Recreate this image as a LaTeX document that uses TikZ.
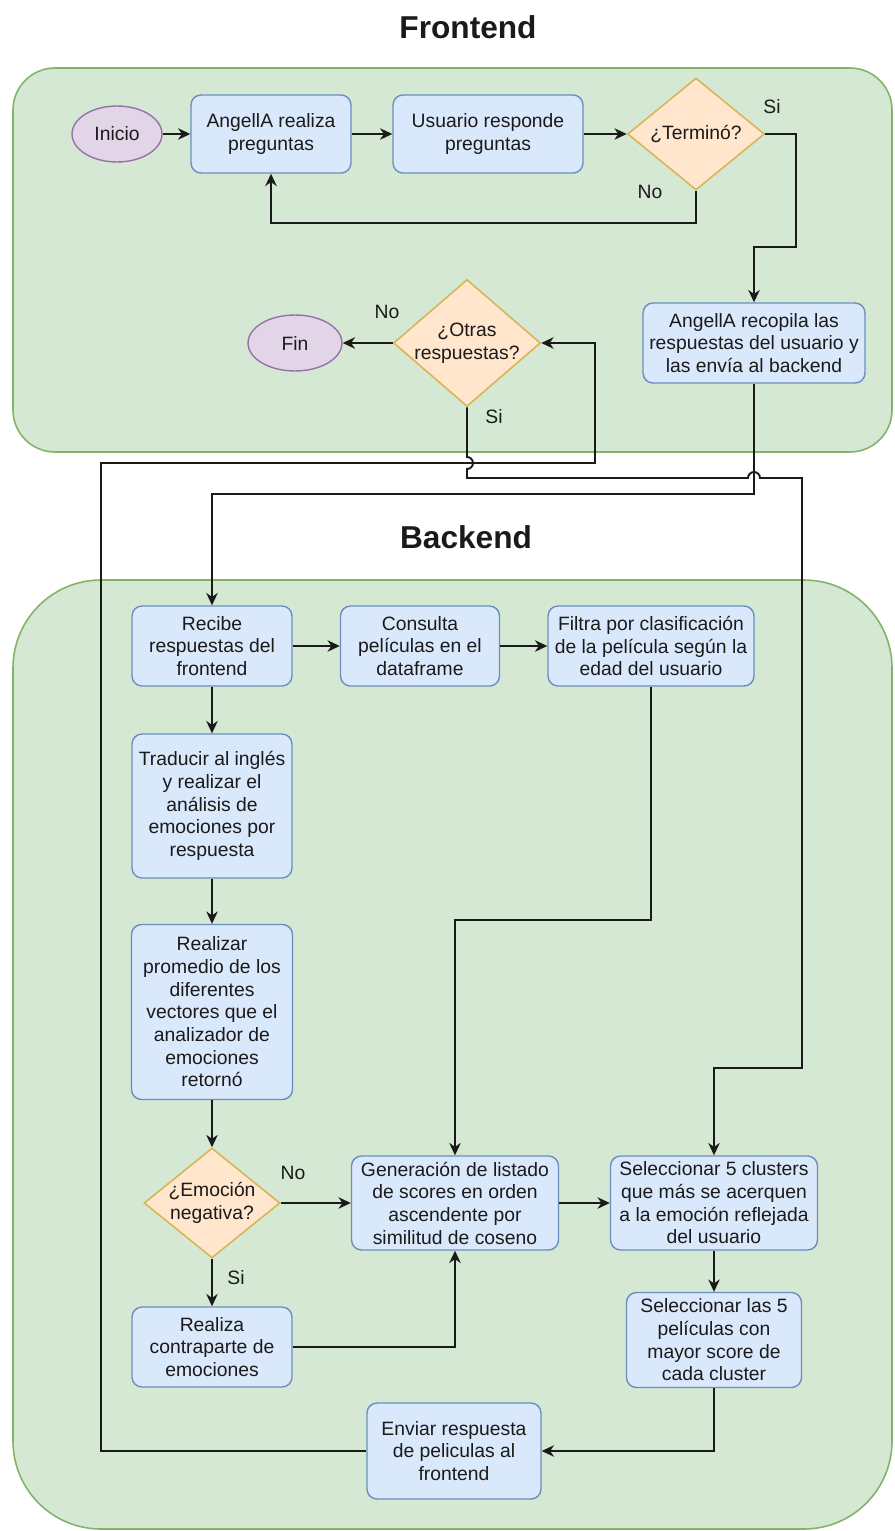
\documentclass[tikz,border=0pt]{standalone}
\usepackage{fontspec}
\setmainfont{Liberation Sans}
\usetikzlibrary{shapes.geometric,arrows.meta}
\definecolor{grfill}{HTML}{D5E8D4}
\definecolor{grline}{HTML}{82B366}
\definecolor{bxfill}{HTML}{DAE8FC}
\definecolor{bxline}{HTML}{6C8EBF}
\definecolor{dmfill}{HTML}{FFE6CC}
\definecolor{dmline}{HTML}{D6B656}
\definecolor{elfill}{HTML}{E1D5E7}
\definecolor{elline}{HTML}{9673A6}
\definecolor{txt}{HTML}{1A1A1A}
\definecolor{wire}{HTML}{1A1A1A}
\begin{document}
\begin{tikzpicture}[x=0.02cm,y=-0.02cm,
  container/.style={draw=grline,fill=grfill,line width=0.9pt},
  ttl/.style={font=\fontsize{18}{20}\selectfont\bfseries,text=txt},
  txtfont/.style={font=\fontsize{11}{12.9}\selectfont,text=txt,align=center},
  box/.style={txtfont,draw=bxline,fill=bxfill,rounded corners=0.2cm,line width=0.8pt,inner sep=1pt},
  dia/.style={diamond,draw=dmline,fill=dmfill,line width=0.9pt,inner sep=0pt},
  ell/.style={ellipse,txtfont,draw=elline,fill=elfill,line width=0.8pt,inner sep=1pt},
  lbl/.style={txtfont,inner sep=0pt},
  wireline/.style={draw=wire,line width=1.1pt},
  arr/.style={wireline,-{Stealth[length=7pt,width=6.5pt,inset=2.2pt]}}
]
\useasboundingbox (0,0) rectangle (894,1531);

% containers
\draw[container,rounded corners=0.84cm] (13,68) rectangle (892,452);
\draw[container,rounded corners=1.76cm] (13,580) rectangle (892,1529);

\node[ttl] (tfront) at (468,27) {Frontend};
\node[ttl] (tback) at (466,537) {Backend};

% ---- Frontend nodes
\node[ell,minimum width=1.8cm,minimum height=1.12cm] (inicio) at (117,134) {Inicio};
\node[box,minimum width=3.2cm,minimum height=1.56cm] (q1) at (271,134) {AngellA realiza\\preguntas};
\node[box,minimum width=3.8cm,minimum height=1.56cm] (q2) at (488,134) {Usuario responde\\preguntas};
\node[dia,minimum width=2.74cm,minimum height=2.24cm] (term) at (696,134) {};
\node[lbl] (termtxt) at (term) {¿Terminó?};
\node[box,minimum width=4.44cm,minimum height=1.6cm] (recopila) at (754,343) {AngellA recopila las\\respuestas del usuario y\\las envía al backend};
\node[dia,minimum width=2.94cm,minimum height=2.54cm] (otras) at (467,343) {};
\node[lbl] (otrastxt) at (otras) {¿Otras\\respuestas?};
\node[ell,minimum width=1.88cm,minimum height=1.12cm] (fin) at (295,343) {Fin};

% ---- Backend nodes
\node[box,minimum width=3.2cm,minimum height=1.6cm] (recibe) at (212,646) {Recibe\\respuestas del\\frontend};
\node[box,minimum width=3.18cm,minimum height=1.6cm] (consulta) at (420,646) {Consulta\\películas en el\\dataframe};
\node[box,minimum width=4.12cm,minimum height=1.6cm] (filtra) at (651,646) {Filtra por clasificación\\de la película según la\\edad del usuario};
\node[box,minimum width=3.2cm,minimum height=2.88cm] (traducir) at (212,806) {Traducir al inglés\\y realizar el\\análisis de\\emociones por\\respuesta};
\node[box,minimum width=3.22cm,minimum height=3.5cm] (promedio) at (212,1012) {Realizar\\promedio de los\\diferentes\\vectores que el\\analizador de\\emociones\\retornó};
\node[dia,minimum width=2.72cm,minimum height=2.2cm] (emocion) at (212,1203) {};
\node[lbl] (emociontxt) at (emocion) {¿Emoción\\negativa?};
\node[box,minimum width=3.2cm,minimum height=1.6cm] (contraparte) at (212,1347) {Realiza\\contraparte de\\emociones};
\node[box,minimum width=4.14cm,minimum height=1.88cm] (generacion) at (455,1203) {Generación de listado\\de scores en orden\\ascendente por\\similitud de coseno};
\node[box,minimum width=4.14cm,minimum height=1.88cm] (sel5) at (714,1203) {Seleccionar 5 clusters\\que más se acerquen\\a la emoción reflejada\\del usuario};
\node[box,minimum width=3.5cm,minimum height=1.9cm] (selpel) at (714,1340) {Seleccionar las 5\\películas con\\mayor score de\\cada cluster};
\node[box,minimum width=3.48cm,minimum height=1.92cm] (enviar) at (454,1451) {Enviar respuesta\\de peliculas al\\frontend};

% ---- edge labels
\node[lbl] (lsi1) at (772,107) {Si};
\node[lbl] (lno1) at (650,192) {No};
\node[lbl] (lno2) at (387,312) {No};
\node[lbl] (lsi2) at (494,417) {Si};
\node[lbl] (lno3) at (293,1173) {No};
\node[lbl] (lsi3) at (236,1278) {Si};

% ---- bend coordinates
\coordinate (b1) at (101,463);
\coordinate (b2) at (595,343);
\coordinate (b3) at (212,494);
\coordinate (b4) at (796,247);
\coordinate (b5) at (271,223);
\coordinate (b6) at (455,920);
\coordinate (b7) at (802,1068);
\coordinate (j1) at (467,457);
\coordinate (j2) at (748,478);

% ---- frontend connectors
\draw[arr] (inicio.east) -- (q1.west);
\draw[arr] (q1.east) -- (q2.west);
\draw[arr] (q2.east) -- (term.west);
\draw[arr] (term.south) |- (b5) -- (q1.south);
\draw[arr] (term.east) -| (b4) -| (recopila.north);
\draw[arr] (otras.west) -- (fin.east);
\draw[arr] (recopila.south) |- (b3) -- (recibe.north);
\draw[arr] (otras.south) -- (j1) arc[start angle=90,end angle=-90,radius=0.12cm]
  -- (otras.south |- j2) -- (j2) arc[start angle=180,end angle=0,radius=0.12cm]
  -| (b7) -| (sel5.north);
\draw[arr] (enviar.west) -| (b1) -| (b2) -- (otras.east);

% ---- backend connectors
\draw[arr] (recibe.east) -- (consulta.west);
\draw[arr] (consulta.east) -- (filtra.west);
\draw[arr] (recibe.south) -- (traducir.north);
\draw[arr] (traducir.south) -- (promedio.north);
\draw[arr] (promedio.south) -- (emocion.north);
\draw[arr] (filtra.south) |- (b6) -- (generacion.north);
\draw[arr] (emocion.east) -- (generacion.west);
\draw[arr] (emocion.south) -- (contraparte.north);
\draw[arr] (contraparte.east) -| (generacion.south);
\draw[arr] (generacion.east) -- (sel5.west);
\draw[arr] (sel5.south) -- (selpel.north);
\draw[arr] (selpel.south) |- (enviar.east);
\end{tikzpicture}
\end{document}
